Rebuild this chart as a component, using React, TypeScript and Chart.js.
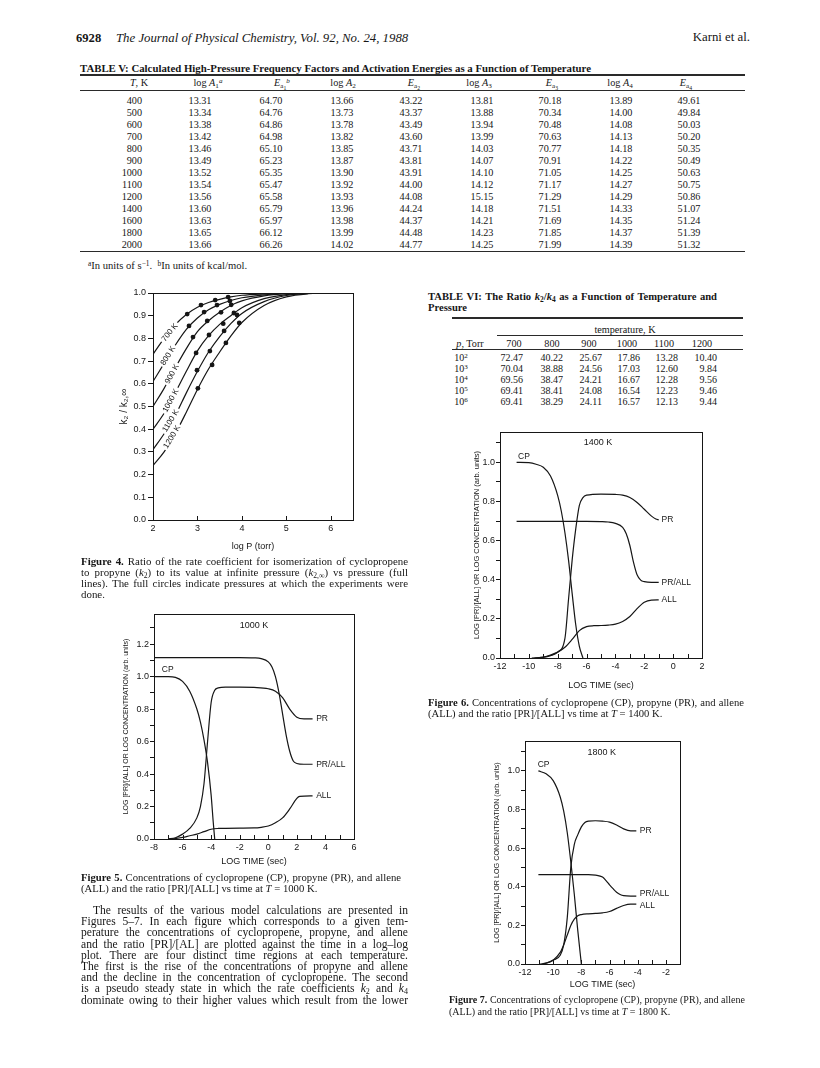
import React, { useEffect, useRef } from "react";
import { Chart, registerables } from "chart.js";
Chart.register(...registerables);

const INK = "#161616";
const SANS = '"Liberation Sans", "DejaVu Sans", Arial, sans-serif';
const SERIF = '"Liberation Serif", "Times New Roman", Times, serif';

/* ---------------- Table V ---------------- */
const t5Temps = [400, 500, 600, 700, 800, 900, 1000, 1100, 1200, 1400, 1600, 1800, 2000];
const t5LogA1 = [13.31, 13.34, 13.38, 13.42, 13.46, 13.49, 13.52, 13.54, 13.56, 13.6, 13.63, 13.65, 13.66];
const t5Ea1 = [64.7, 64.76, 64.86, 64.98, 65.1, 65.23, 65.35, 65.47, 65.58, 65.79, 65.97, 66.12, 66.26];
const t5LogA2 = [13.66, 13.73, 13.78, 13.82, 13.85, 13.87, 13.9, 13.92, 13.93, 13.96, 13.98, 13.99, 14.02];
const t5Ea2 = [43.22, 43.37, 43.49, 43.6, 43.71, 43.81, 43.91, 44.0, 44.08, 44.24, 44.37, 44.48, 44.77];
const t5LogA3 = [13.81, 13.88, 13.94, 13.99, 14.03, 14.07, 14.1, 14.12, 15.15, 14.18, 14.21, 14.23, 14.25];
const t5Ea3 = [70.18, 70.34, 70.48, 70.63, 70.77, 70.91, 71.05, 71.17, 71.29, 71.51, 71.69, 71.85, 71.99];
const t5LogA4 = [13.89, 14.0, 14.08, 14.13, 14.18, 14.22, 14.25, 14.27, 14.29, 14.33, 14.35, 14.37, 14.39];
const t5Ea4 = [49.61, 49.84, 50.03, 50.2, 50.35, 50.49, 50.63, 50.75, 50.86, 51.07, 51.24, 51.39, 51.32];

/* ---------------- Table VI ---------------- */
const t6PressureExp = [2, 3, 4, 5, 6];
const t6Temps = [700, 800, 900, 1000, 1100, 1200];
const t6Ratio700 = [72.47, 70.04, 69.56, 69.41, 69.41];
const t6Ratio800 = [40.22, 38.88, 38.47, 38.41, 38.29];
const t6Ratio900 = [25.67, 24.56, 24.21, 24.08, 24.11];
const t6Ratio1000 = [17.86, 17.03, 16.67, 16.54, 16.57];
const t6Ratio1100 = [13.28, 12.6, 12.28, 12.23, 12.13];
const t6Ratio1200 = [10.4, 9.84, 9.56, 9.46, 9.44];

/* ---------------- Figure 4 ---------------- */
const fig4LogP = [2, 2.25, 2.5, 2.75, 3, 3.25, 3.5, 3.75, 4, 4.5, 5, 5.5, 6, 6.5];
const fig4Ratio700 = [0.73, 0.8, 0.86, 0.905, 0.937, 0.958, 0.972, 0.983, 0.99, 0.996, 0.999, 1, 1, 1];
const fig4Ratio800 = [0.61, 0.69, 0.77, 0.84, 0.89, 0.926, 0.95, 0.967, 0.979, 0.992, 0.998, 1, 1, 1];
const fig4Ratio900 = [0.5, 0.58, 0.67, 0.755, 0.83, 0.878, 0.915, 0.945, 0.965, 0.987, 0.997, 1, 1, 1];
const fig4Ratio1000 = [0.4, 0.47, 0.56, 0.655, 0.745, 0.812, 0.862, 0.9, 0.935, 0.975, 0.993, 0.999, 1, 1];
const fig4Ratio1100 = [0.31, 0.38, 0.46, 0.56, 0.655, 0.74, 0.808, 0.865, 0.91, 0.962, 0.989, 0.998, 1, 1];
const fig4Ratio1200 = [0.24, 0.3, 0.38, 0.475, 0.575, 0.665, 0.74, 0.81, 0.87, 0.945, 0.983, 0.997, 1, 1];
const fig4CurveNames = ["700 K", "800 K", "900 K", "1000 K", "1100 K", "1200 K"];
const fig4DotP700 = [2.77, 3.08, 3.4, 3.69];
const fig4DotR700 = [0.907, 0.947, 0.969, 0.982];
const fig4DotP800 = [2.81, 3.15, 3.44, 3.73];
const fig4DotR800 = [0.855, 0.916, 0.947, 0.965];
const fig4DotP900 = [2.9, 3.22, 3.53, 3.76];
const fig4DotR900 = [0.806, 0.877, 0.915, 0.948];
const fig4DotP1000 = [2.97, 3.26, 3.58, 3.82];
const fig4DotR1000 = [0.736, 0.815, 0.865, 0.912];
const fig4DotP1100 = [2.99, 3.28, 3.6, 3.89];
const fig4DotR1100 = [0.66, 0.744, 0.833, 0.903];
const fig4DotP1200 = [3.01, 3.33, 3.64, 3.94];
const fig4DotR1200 = [0.58, 0.683, 0.78, 0.868];
const fig4LabelP = [2.38, 2.34, 2.43, 2.4, 2.4, 2.43];
const fig4LabelR = [0.826, 0.724, 0.643, 0.526, 0.437, 0.366];
const fig4XTicks = [2, 3, 4, 5, 6];
const fig4YTicks = [0, 0.1, 0.2, 0.3, 0.4, 0.5, 0.6, 0.7, 0.8, 0.9, 1.0];

/* ---------------- Figure 5 (1000 K) ---------------- */
const fig5CPTime = [-8, -7, -6.5, -6, -5.5, -5, -4.75, -4.5, -4.25, -4, -3.85, -3.75];
const fig5CPConc = [1.0, 1.0, 0.995, 0.97, 0.91, 0.8, 0.72, 0.61, 0.47, 0.27, 0.1, 0.0];
const fig5PRTime = [-7, -6.5, -6, -5.5, -5, -4.75, -4.5, -4.25, -4, -3.75, -3.5, -3, -2, -1, 0, 0.5, 1, 1.5, 2, 2.5, 3.1];
const fig5PRConc = [0, 0.008, 0.03, 0.065, 0.13, 0.2, 0.34, 0.6, 0.84, 0.915, 0.93, 0.935, 0.935, 0.933, 0.925, 0.91, 0.87, 0.8, 0.75, 0.74, 0.74];
const fig5RatioTime = [-8, -6, -4, -2, -1, -0.5, 0, 0.25, 0.5, 0.75, 1, 1.25, 1.5, 1.75, 2, 2.5, 3.1];
const fig5RatioVal = [1.117, 1.117, 1.117, 1.117, 1.115, 1.11, 1.09, 1.06, 1.0, 0.9, 0.77, 0.64, 0.54, 0.48, 0.465, 0.46, 0.46];
const fig5ALLTime = [-7, -6.5, -6, -5.5, -5, -4.5, -4, -3.5, -3, -2, -1, -0.5, 0, 0.5, 1, 1.5, 2, 2.2, 3.1];
const fig5ALLConc = [0, 0.003, 0.01, 0.02, 0.03, 0.045, 0.06, 0.065, 0.066, 0.067, 0.068, 0.072, 0.08, 0.1, 0.13, 0.185, 0.25, 0.262, 0.265];
const fig5XTicks = [-8, -7, -6, -5, -4, -3, -2, -1, 0, 1, 2, 3, 4, 5, 6];
const fig5XLabels = [-8, -6, -4, -2, 0, 2, 4, 6];
const fig5YTicks = [0, 0.1, 0.2, 0.3, 0.4, 0.5, 0.6, 0.7, 0.8, 0.9, 1.0, 1.1, 1.2, 1.3];
const fig5YLabels = [0, 0.2, 0.4, 0.6, 0.8, 1.0, 1.2];

/* ---------------- Figure 6 (1400 K) ---------------- */
const fig6CPTime = [-10.85, -10, -9.5, -9, -8.5, -8, -7.75, -7.5, -7.25, -7, -6.75, -6.5, -6.25];
const fig6CPConc = [1.0, 0.998, 0.99, 0.975, 0.93, 0.83, 0.75, 0.64, 0.5, 0.33, 0.17, 0.06, 0.0];
const fig6PRTime = [-9.8, -9, -8.5, -8, -7.5, -7.25, -7, -6.75, -6.5, -6.25, -6, -5, -4, -3.5, -3, -2.5, -2, -1.5, -1.2, -1.0];
const fig6PRConc = [0, 0.003, 0.012, 0.03, 0.1, 0.3, 0.5, 0.66, 0.78, 0.82, 0.832, 0.838, 0.836, 0.832, 0.82, 0.795, 0.76, 0.725, 0.71, 0.706];
const fig6RatioTime = [-10.85, -8, -6, -5, -4.5, -4, -3.5, -3.25, -3, -2.75, -2.5, -2.25, -2, -1.5, -1.0];
const fig6RatioVal = [0.698, 0.698, 0.698, 0.697, 0.695, 0.688, 0.668, 0.635, 0.575, 0.49, 0.425, 0.398, 0.39, 0.386, 0.386];
const fig6ALLTime = [-9.6, -9, -8.5, -8, -7.5, -7, -6.5, -6, -5.5, -5, -4.5, -4, -3.5, -3, -2.5, -2, -1.5, -1.0];
const fig6ALLConc = [0, 0.005, 0.015, 0.03, 0.055, 0.095, 0.14, 0.16, 0.165, 0.166, 0.168, 0.173, 0.187, 0.212, 0.252, 0.285, 0.296, 0.297];
const fig6XTicks = [-12, -11, -10, -9, -8, -7, -6, -5, -4, -3, -2, -1, 0, 1, 2];
const fig6XLabels = [-12, -10, -8, -6, -4, -2, 0, 2];
const fig6YTicks = [0, 0.1, 0.2, 0.3, 0.4, 0.5, 0.6, 0.7, 0.8, 0.9, 1.0, 1.1];
const fig6YLabels = [0, 0.2, 0.4, 0.6, 0.8, 1.0];

/* ---------------- Figure 7 (1800 K) ---------------- */
const fig7CPTime = [-11.05, -10.5, -10, -9.5, -9.25, -9, -8.75, -8.5, -8.25, -8.0];
const fig7CPConc = [1.0, 0.985, 0.95, 0.865, 0.79, 0.68, 0.53, 0.36, 0.17, 0.0];
const fig7PRTime = [-10.95, -10.5, -10, -9.5, -9.25, -9, -8.75, -8.5, -8.25, -8, -7.75, -7.5, -7, -6.5, -6, -5.5, -5, -4.5, -4.1];
const fig7PRConc = [0, 0.005, 0.02, 0.045, 0.1, 0.24, 0.5, 0.62, 0.67, 0.71, 0.733, 0.74, 0.742, 0.74, 0.735, 0.72, 0.7, 0.69, 0.69];
const fig7RatioTime = [-11.05, -9, -7.5, -7, -6.5, -6.25, -6, -5.75, -5.5, -5.25, -5, -4.5, -4.1];
const fig7RatioVal = [0.463, 0.463, 0.463, 0.46, 0.45, 0.432, 0.41, 0.39, 0.372, 0.36, 0.354, 0.352, 0.352];
const fig7ALLTime = [-10.7, -10.25, -10, -9.5, -9.25, -9, -8.75, -8.5, -8.25, -8, -7.5, -7, -6.5, -6, -5.5, -5, -4.5, -4.1];
const fig7ALLConc = [0, 0.01, 0.02, 0.06, 0.1, 0.15, 0.2, 0.232, 0.25, 0.256, 0.26, 0.262, 0.265, 0.272, 0.288, 0.303, 0.31, 0.31];
const fig7XTicks = [-12, -11, -10, -9, -8, -7, -6, -5, -4, -3, -2];
const fig7XLabels = [-12, -10, -8, -6, -4, -2];
const fig7YTicks = [0, 0.1, 0.2, 0.3, 0.4, 0.5, 0.6, 0.7, 0.8, 0.9, 1.0, 1.1];
const fig7YLabels = [0, 0.2, 0.4, 0.6, 0.8, 1.0];

/* ---------------- chart helpers ---------------- */
const YW = 40;
const PADT = 10;
const PADR = 12;
const XH = 40;

const pts = (xs: number[], ys: number[]) => xs.map((x, i) => ({ x, y: ys[i] }));
const hasVal = (arr: number[], v: number) => arr.some((u) => Math.abs(u - v) < 1e-6);

const framePlugin = {
  id: "frame",
  afterDraw(chart: any) {
    const { ctx, chartArea: a } = chart;
    ctx.save();
    ctx.strokeStyle = INK;
    ctx.lineWidth = 1;
    ctx.strokeRect(Math.round(a.left) + 0.5, Math.round(a.top) + 0.5, Math.round(a.right - a.left), Math.round(a.bottom - a.top));
    const xs = chart.scales.x;
    for (const t of xs.ticks) {
      const px = Math.round(xs.getPixelForValue(t.value)) + 0.5;
      ctx.beginPath();
      ctx.moveTo(px, a.bottom);
      ctx.lineTo(px, a.bottom - 4);
      ctx.stroke();
    }
    ctx.restore();
  },
};

type Note = { text: string; x: number; y: number; align?: string; size?: number; follow?: number; bg?: boolean };

const notesPlugin = (notes: Note[]) => ({
  id: "notes",
  afterDatasetsDraw(chart: any) {
    const { ctx } = chart;
    const xs = chart.scales.x;
    const ys = chart.scales.y;
    for (const n of notes) {
      const size = n.size ?? 8.5;
      const px = xs.getPixelForValue(n.x);
      const py = ys.getPixelForValue(n.y);
      let angle = 0;
      if (n.follow !== undefined) {
        const d = chart.data.datasets[n.follow].data;
        for (let i = 0; i < d.length - 1; i++) {
          if (d[i].x <= n.x && n.x <= d[i + 1].x) {
            const dx = xs.getPixelForValue(d[i + 1].x) - xs.getPixelForValue(d[i].x);
            const dy = ys.getPixelForValue(d[i + 1].y) - ys.getPixelForValue(d[i].y);
            angle = Math.atan2(dy, dx);
          }
        }
      }
      ctx.save();
      ctx.translate(px, py);
      ctx.rotate(angle);
      ctx.font = `${size}px ${SANS}`;
      ctx.textAlign = n.align ?? "left";
      ctx.textBaseline = "middle";
      if (n.bg) {
        const w = ctx.measureText(n.text).width;
        ctx.fillStyle = "#ffffff";
        ctx.fillRect(-w / 2 - 2, -size * 0.62, w + 4, size * 1.24);
      }
      ctx.fillStyle = INK;
      ctx.fillText(n.text, 0, 0);
      ctx.restore();
    }
  },
});

type Spec = {
  L: number; T: number; R: number; B: number;
  xMin: number; xMax: number; xTicks: number[]; xLabels: number[]; xFmt: (v: number) => string;
  yMin: number; yMax: number; yTicks: number[]; yLabels: number[]; yFmt: (v: number) => string;
  xTitle: string; xTitleSize: number; xTitleY: number;
  yTitle: string; yTitleSize: number; yTitleX: number;
  tickSize: number; yTickLen: number; yTickPad: number;
  datasets: any[]; notes: Note[];
};

function makeConfig(s: Spec) {
  const canvasLeft = s.L - YW;
  const canvasTop = s.T - PADT;
  const ch = PADT + (s.B - s.T) + XH;
  const yLh = s.yTitleSize * 1.2;
  const xLh = s.xTitleSize * 1.2;
  const yTitlePad = s.yTitleX - canvasLeft - yLh / 2;
  const xTitlePad = ch - (s.xTitleY - canvasTop) - xLh / 2;
  return {
    type: "line",
    data: { datasets: s.datasets },
    options: {
      animation: false,
      responsive: false,
      devicePixelRatio: 1,
      layout: { padding: { top: PADT, right: PADR, left: 0, bottom: 0 }, autoPadding: false },
      plugins: { legend: { display: false }, tooltip: { enabled: false }, title: { display: false } },
      elements: {
        line: { borderColor: INK, borderWidth: 1.2, cubicInterpolationMode: "monotone", fill: false },
        point: { radius: 0, hoverRadius: 0 },
      },
      scales: {
        x: {
          type: "linear",
          min: s.xMin,
          max: s.xMax,
          afterBuildTicks: (sc: any) => { sc.ticks = s.xTicks.map((v) => ({ value: v })); },
          afterFit: (sc: any) => { sc.height = XH; sc.paddingLeft = 0; sc.paddingRight = 0; },
          ticks: {
            autoSkip: false, maxRotation: 0, minRotation: 0, padding: 3, color: INK,
            font: { family: SANS, size: s.tickSize },
            callback: (v: any) => (hasVal(s.xLabels, Number(v)) ? s.xFmt(Number(v)) : ""),
          },
          grid: { display: false, drawTicks: false },
          border: { display: false },
          title: {
            display: true, text: s.xTitle, color: INK,
            font: { family: SANS, size: s.xTitleSize, lineHeight: 1.2 },
            padding: { top: 0, bottom: xTitlePad },
          },
        },
        y: {
          type: "linear",
          min: s.yMin,
          max: s.yMax,
          afterBuildTicks: (sc: any) => { sc.ticks = s.yTicks.map((v) => ({ value: v })); },
          afterFit: (sc: any) => { sc.width = YW; sc.paddingTop = 0; sc.paddingBottom = 0; },
          ticks: {
            autoSkip: false, padding: s.yTickPad, color: INK,
            font: { family: SANS, size: s.tickSize },
            callback: (v: any) => (hasVal(s.yLabels, Number(v)) ? s.yFmt(Number(v)) : ""),
          },
          grid: { drawOnChartArea: false, drawTicks: true, tickLength: s.yTickLen, color: INK, tickColor: INK, lineWidth: 1 },
          border: { display: false },
          title: {
            display: true, text: s.yTitle, color: INK,
            font: { family: SANS, size: s.yTitleSize, lineHeight: 1.2 },
            padding: { top: yTitlePad, bottom: 0 },
          },
        },
      },
    },
    plugins: [framePlugin, notesPlugin(s.notes)],
  };
}

function ChartBox({ spec }: { spec: Spec }) {
  const ref = useRef<HTMLCanvasElement | null>(null);
  const cw = YW + (spec.R - spec.L) + PADR;
  const ch = PADT + (spec.B - spec.T) + XH;
  useEffect(() => {
    const chart = new Chart(ref.current as HTMLCanvasElement, makeConfig(spec) as any);
    return () => chart.destroy();
  }, []);
  return (
    <canvas
      ref={ref}
      width={cw}
      height={ch}
      style={{ position: "absolute", left: spec.L - YW, top: spec.T - PADT, width: cw, height: ch }}
    />
  );
}

const curve = (xs: number[], ys: number[]) => ({ data: pts(xs, ys), borderColor: INK, borderWidth: 1.2, pointRadius: 0 });
const dots = (xs: number[], ys: number[]) => ({
  data: pts(xs, ys), showLine: false, pointRadius: 2.4, pointBackgroundColor: INK, pointBorderColor: INK, pointBorderWidth: 0,
});

const fig4Curves = [fig4Ratio700, fig4Ratio800, fig4Ratio900, fig4Ratio1000, fig4Ratio1100, fig4Ratio1200];
const fig4DotsP = [fig4DotP700, fig4DotP800, fig4DotP900, fig4DotP1000, fig4DotP1100, fig4DotP1200];
const fig4DotsR = [fig4DotR700, fig4DotR800, fig4DotR900, fig4DotR1000, fig4DotR1100, fig4DotR1200];

const fmt1 = (v: number) => v.toFixed(1);
const fmtInt = (v: number) => String(Math.round(v));
const CONC_TITLE = "LOG [PR]/[ALL] OR LOG CONCENTRATION (arb. units)";

const fig4Spec: Spec = {
  L: 153, T: 293, R: 353, B: 520,
  xMin: 2, xMax: 6.5, xTicks: fig4XTicks, xLabels: fig4XTicks, xFmt: fmtInt,
  yMin: 0, yMax: 1, yTicks: fig4YTicks, yLabels: fig4YTicks, yFmt: fmt1,
  xTitle: "log P (torr)", xTitleSize: 9, xTitleY: 547,
  yTitle: "k\u2082 / k\u2082,\u221e", yTitleSize: 10, yTitleX: 124,
  tickSize: 9, yTickLen: 5, yTickPad: 2,
  datasets: [
    ...fig4Curves.map((c) => curve(fig4LogP, c)),
    ...fig4DotsP.map((p, i) => dots(p, fig4DotsR[i])),
  ],
  notes: fig4CurveNames.map((t, i) => ({ text: t, x: fig4LabelP[i], y: fig4LabelR[i], align: "center", size: 8, follow: i, bg: true })),
};

const fig5Spec: Spec = {
  L: 154, T: 614, R: 354, B: 839,
  xMin: -8, xMax: 6, xTicks: fig5XTicks, xLabels: fig5XLabels, xFmt: fmtInt,
  yMin: 0, yMax: 1.385, yTicks: fig5YTicks, yLabels: fig5YLabels, yFmt: fmt1,
  xTitle: "LOG TIME (sec)", xTitleSize: 9, xTitleY: 862,
  yTitle: CONC_TITLE, yTitleSize: 7, yTitleX: 126,
  tickSize: 9, yTickLen: 4, yTickPad: 1,
  datasets: [
    curve(fig5CPTime, fig5CPConc),
    curve(fig5PRTime, fig5PRConc),
    curve(fig5RatioTime, fig5RatioVal),
    curve(fig5ALLTime, fig5ALLConc),
  ],
  notes: [
    { text: "CP", x: -7.45, y: 1.045 },
    { text: "PR", x: 3.35, y: 0.74 },
    { text: "PR/ALL", x: 3.35, y: 0.46 },
    { text: "ALL", x: 3.35, y: 0.268 },
    { text: "1000 K", x: -1.0, y: 1.317, align: "center", size: 9 },
  ],
};

const fig6Spec: Spec = {
  L: 500, T: 432, R: 702, B: 658,
  xMin: -12, xMax: 2, xTicks: fig6XTicks, xLabels: fig6XLabels, xFmt: fmtInt,
  yMin: 0, yMax: 1.155, yTicks: fig6YTicks, yLabels: fig6YLabels, yFmt: fmt1,
  xTitle: "LOG TIME (sec)", xTitleSize: 9, xTitleY: 686,
  yTitle: CONC_TITLE, yTitleSize: 7.5, yTitleX: 477,
  tickSize: 9, yTickLen: 4, yTickPad: 1,
  datasets: [
    curve(fig6CPTime, fig6CPConc),
    curve(fig6PRTime, fig6PRConc),
    curve(fig6RatioTime, fig6RatioVal),
    curve(fig6ALLTime, fig6ALLConc),
  ],
  notes: [
    { text: "CP", x: -10.75, y: 1.03 },
    { text: "PR", x: -0.8, y: 0.706 },
    { text: "PR/ALL", x: -0.8, y: 0.386 },
    { text: "ALL", x: -0.8, y: 0.297 },
    { text: "1400 K", x: -5.2, y: 1.1, align: "center", size: 9 },
  ],
};

const fig7Spec: Spec = {
  L: 525, T: 741, R: 680, B: 964,
  xMin: -12, xMax: -1, xTicks: fig7XTicks, xLabels: fig7XLabels, xFmt: fmtInt,
  yMin: 0, yMax: 1.155, yTicks: fig7YTicks, yLabels: fig7YLabels, yFmt: fmt1,
  xTitle: "LOG TIME (sec)", xTitleSize: 9, xTitleY: 985,
  yTitle: CONC_TITLE, yTitleSize: 7.2, yTitleX: 497,
  tickSize: 9, yTickLen: 4, yTickPad: 1,
  datasets: [
    curve(fig7CPTime, fig7CPConc),
    curve(fig7PRTime, fig7PRConc),
    curve(fig7RatioTime, fig7RatioVal),
    curve(fig7ALLTime, fig7ALLConc),
  ],
  notes: [
    { text: "CP", x: -11.1, y: 1.035 },
    { text: "PR", x: -3.85, y: 0.69 },
    { text: "PR/ALL", x: -3.85, y: 0.363 },
    { text: "ALL", x: -3.85, y: 0.3 },
    { text: "1800 K", x: -6.55, y: 1.095, align: "center", size: 9 },
  ],
};

/* ---------------- text helpers ---------------- */
const Sub = ({ children }: any) => (
  <sub style={{ fontSize: "70%", lineHeight: 0, verticalAlign: "-0.25em" }}>{children}</sub>
);
const Sup = ({ children }: any) => (
  <sup style={{ fontSize: "70%", lineHeight: 0, verticalAlign: "0.45em" }}>{children}</sup>
);

function Line({ x, y, w, size = 11.1, lh = 12, justify = false, bold = false, italic = false, children }: any) {
  return (
    <div
      style={{
        position: "absolute", left: x, top: y - lh / 2, width: w, fontSize: size, lineHeight: `${lh}px`,
        textAlign: justify ? "justify" : "left", textAlignLast: justify ? "justify" : "auto",
        whiteSpace: "nowrap", fontWeight: bold ? "bold" : "normal",
        fontStyle: italic ? "italic" : "normal",
      } as any}
    >
      {children}
    </div>
  );
}

function Cell({ cx, cy, w = 60, align = "center", size = 10.2, children }: any) {
  const left = align === "center" ? cx - w / 2 : align === "right" ? cx - w : cx;
  return (
    <div
      style={{
        position: "absolute", left, top: cy - 7, width: w, height: 14, lineHeight: "14px",
        textAlign: align, fontSize: size, whiteSpace: "nowrap",
      } as any}
    >
      {children}
    </div>
  );
}

const Rule = ({ x1, x2, y, h = 1 }: any) => (
  <div style={{ position: "absolute", left: x1, top: y - h / 2, width: x2 - x1, height: h, background: "#2a2a2a" }} />
);

/* ---------------- layout constants ---------------- */
const t5ValueX = [200, 271, 342, 411, 482, 550, 621, 689];
const t5HeadX = [139, 208, 282, 343, 414, 479, 552, 620, 686];
const t5RowY = (i: number) => 100.5 + 12 * i;
const t6HeadX = [514, 552, 589, 627, 664, 702];
const t6RightX = [523, 563, 602, 640, 678, 717];
const t6RowY = (i: number) => 358 + 11 * i;

export default function App() {
  const t5Cols = [t5LogA1, t5Ea1, t5LogA2, t5Ea2, t5LogA3, t5Ea3, t5LogA4, t5Ea4];
  const t6Cols = [t6Ratio700, t6Ratio800, t6Ratio900, t6Ratio1000, t6Ratio1100, t6Ratio1200];
  const LX = 81;
  const LW = 327;
  const paraY = (i: number) => 910 + 11.2 * i;
  const FP = 11.55;
  const F4 = 10.9;
  const F5 = 10.7;
  const F6 = 10.6;
  const F7 = 10.0;
  return (
    <div
      style={{
        position: "absolute", left: 0, top: 0, width: 820, height: 1068, background: "#fff",
        fontFamily: SERIF, color: INK, overflow: "hidden",
      }}
    >
      {/* running head */}
      <Line x={76} y={38} size={12.6} bold>6928</Line>
      <Line x={116} y={38} size={12.8} italic>The Journal of Physical Chemistry, Vol. 92, No. 24, 1988</Line>
      <div style={{ position: "absolute", right: 820 - 750, top: 30, fontSize: 12.8, lineHeight: "15px" }}>Karni et al.</div>

      {/* Table V */}
      <Line x={80} y={68} size={10.8} bold>
        TABLE V: Calculated High-Pressure Frequency Factors and Activation Energies as a Function of Temperature
      </Line>
      <Rule x1={80} x2={745} y={75} h={1.6} />
      <Cell cx={t5HeadX[0]} cy={83}><i>T</i>, K</Cell>
      <Cell cx={t5HeadX[1]} cy={83}>log <i>A</i><Sub>1</Sub><Sup><i>a</i></Sup></Cell>
      <Cell cx={t5HeadX[2]} cy={83}><i>E</i><Sub>a<sub style={{ fontSize: "80%" }}>1</sub></Sub><Sup><i>b</i></Sup></Cell>
      <Cell cx={t5HeadX[3]} cy={83}>log <i>A</i><Sub>2</Sub></Cell>
      <Cell cx={t5HeadX[4]} cy={83}><i>E</i><Sub>a<sub style={{ fontSize: "80%" }}>2</sub></Sub></Cell>
      <Cell cx={t5HeadX[5]} cy={83}>log <i>A</i><Sub>3</Sub></Cell>
      <Cell cx={t5HeadX[6]} cy={83}><i>E</i><Sub>a<sub style={{ fontSize: "80%" }}>3</sub></Sub></Cell>
      <Cell cx={t5HeadX[7]} cy={83}>log <i>A</i><Sub>4</Sub></Cell>
      <Cell cx={t5HeadX[8]} cy={83}><i>E</i><Sub>a<sub style={{ fontSize: "80%" }}>4</sub></Sub></Cell>
      <Rule x1={80} x2={745} y={90} h={1} />
      {t5Temps.map((t, i) => (
        <React.Fragment key={t}>
          <Cell cx={142} cy={t5RowY(i)} align="right">{t}</Cell>
          {t5Cols.map((col, j) => (
            <Cell key={j} cx={t5ValueX[j]} cy={t5RowY(i)}>{col[i].toFixed(2)}</Cell>
          ))}
        </React.Fragment>
      ))}
      <Rule x1={80} x2={745} y={251} h={1} />
      <Line x={88} y={266} size={10.6}>
        <Sup>a</Sup>In units of s<Sup>&minus;1</Sup>.&nbsp;&nbsp;<Sup>b</Sup>In units of kcal/mol.
      </Line>

      {/* Figure 4 */}
      <ChartBox spec={fig4Spec} />
      <Line x={LX} y={561} w={LW} size={F4} justify>
        <b>Figure 4.</b> Ratio of the rate coefficient for isomerization of cyclopropene
      </Line>
      <Line x={LX} y={572} w={LW} size={F4} justify>
        to propyne (<i>k</i><Sub>2</Sub>) to its value at infinite pressure (<i>k</i><Sub>2,&infin;</Sub>) vs pressure (full
      </Line>
      <Line x={LX} y={583} w={LW} size={F4} justify>
        lines). The full circles indicate pressures at which the experiments were
      </Line>
      <Line x={LX} y={594} size={F4}>done.</Line>

      {/* Table VI */}
      <Line x={428} y={297} w={289} size={10.6} bold justify>
        TABLE VI: The Ratio <i>k</i><Sub>2</Sub>/<i>k</i><Sub>4</Sub> as a Function of Temperature and
      </Line>
      <Line x={428} y={308} size={10.6} bold>Pressure</Line>
      <Rule x1={452} x2={743} y={318} h={1.6} />
      <Cell cx={625} cy={330} w={120} size={10.2}>temperature, K</Cell>
      <Rule x1={497} x2={743} y={335} h={1} />
      <Cell cx={470} cy={344} size={10.2}><i>p</i>, Torr</Cell>
      {t6Temps.map((t, j) => (
        <Cell key={t} cx={t6HeadX[j]} cy={344} size={10.2}>{t}</Cell>
      ))}
      <Rule x1={452} x2={743} y={349} h={1} />
      {t6PressureExp.map((e, i) => (
        <React.Fragment key={e}>
          <Cell cx={461} cy={t6RowY(i)} size={10}>10<Sup>{e}</Sup></Cell>
          {t6Cols.map((col, j) => (
            <Cell key={j} cx={t6RightX[j]} cy={t6RowY(i)} align="right" size={10}>{col[i].toFixed(2)}</Cell>
          ))}
        </React.Fragment>
      ))}

      {/* Figure 6 */}
      <ChartBox spec={fig6Spec} />
      <Line x={428} y={703} w={316} size={F6} justify>
        <b>Figure 6.</b> Concentrations of cyclopropene (CP), propyne (PR), and allene
      </Line>
      <Line x={428} y={714} size={F6}>
        (ALL) and the ratio [PR]/[ALL] vs time at <i>T</i> = 1400 K.
      </Line>

      {/* Figure 5 */}
      <ChartBox spec={fig5Spec} />
      <Line x={LX} y={877} w={320} size={F5} justify>
        <b>Figure 5.</b> Concentrations of cyclopropene (CP), propyne (PR), and allene
      </Line>
      <Line x={LX} y={888} size={F5}>
        (ALL) and the ratio [PR]/[ALL] vs time at <i>T</i> = 1000 K.
      </Line>

      {/* body text */}
      <Line x={LX + 12} y={paraY(0)} w={LW - 12} size={FP} justify>
        The results of the various model calculations are presented in
      </Line>
      <Line x={LX} y={paraY(1)} w={LW} size={FP} justify>
        Figures 5&ndash;7. In each figure which corresponds to a given tem-
      </Line>
      <Line x={LX} y={paraY(2)} w={LW} size={FP} justify>
        perature the concentrations of cyclopropene, propyne, and allene
      </Line>
      <Line x={LX} y={paraY(3)} w={LW} size={FP} justify>
        and the ratio [PR]/[AL] are plotted against the time in a log&ndash;log
      </Line>
      <Line x={LX} y={paraY(4)} w={LW} size={FP} justify>
        plot. There are four distinct time regions at each temperature.
      </Line>
      <Line x={LX} y={paraY(5)} w={LW} size={FP} justify>
        The first is the rise of the concentrations of propyne and allene
      </Line>
      <Line x={LX} y={paraY(6)} w={LW} size={FP} justify>
        and the decline in the concentration of cyclopropene. The second
      </Line>
      <Line x={LX} y={paraY(7)} w={LW} size={FP} justify>
        is a pseudo steady state in which the rate coefficients <i>k</i><Sub>2</Sub> and <i>k</i><Sub>4</Sub>
      </Line>
      <Line x={LX} y={paraY(8)} w={LW} size={FP} justify>
        dominate owing to their higher values which result from the lower
      </Line>

      {/* Figure 7 */}
      <ChartBox spec={fig7Spec} />
      <Line x={449} y={1000} w={296} size={F7} justify>
        <b>Figure 7.</b> Concentrations of cyclopropene (CP), propyne (PR), and allene
      </Line>
      <Line x={449} y={1011.5} size={F7}>
        (ALL) and the ratio [PR]/[ALL] vs time at <i>T</i> = 1800 K.
      </Line>
    </div>
  );
}
